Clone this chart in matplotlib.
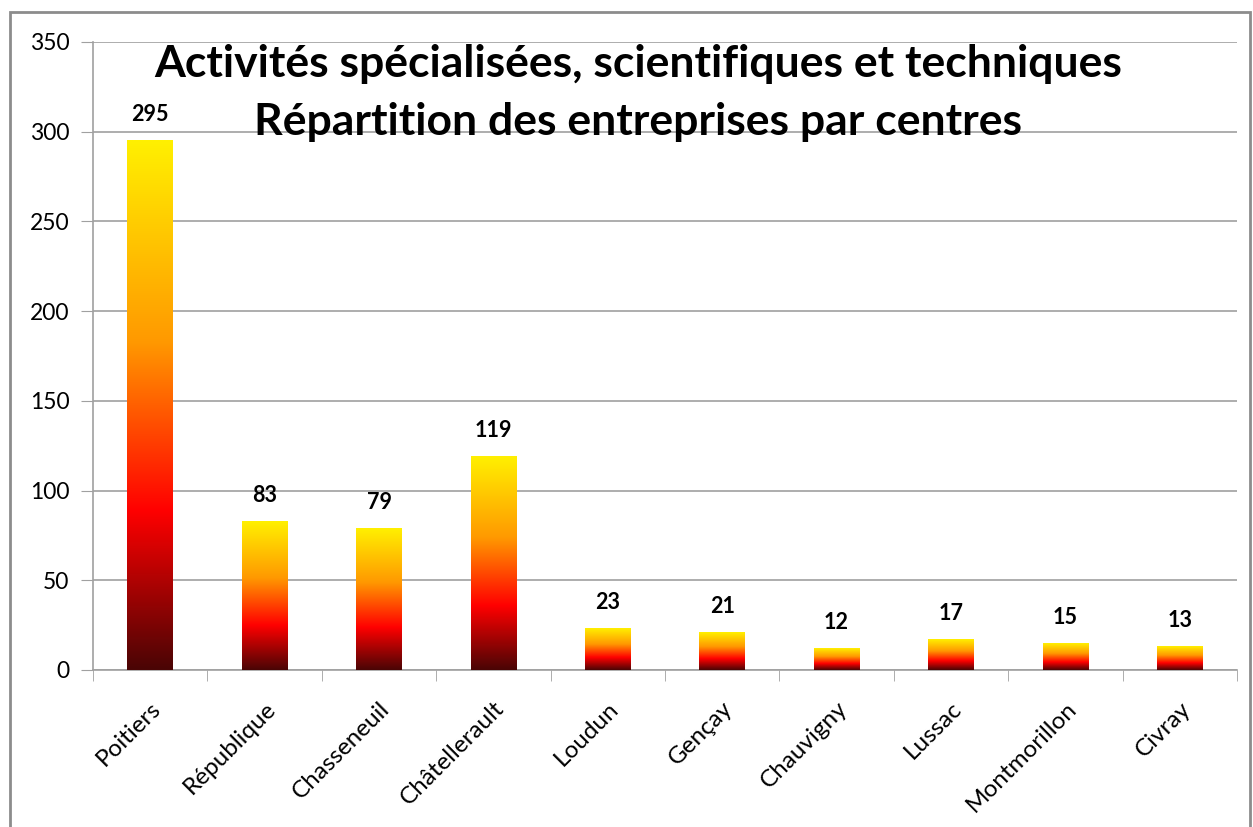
import numpy as np
import matplotlib
matplotlib.use('Agg')
import matplotlib.pyplot as plt
from matplotlib.colors import LinearSegmentedColormap
from matplotlib.patches import Rectangle

CENTRES = ['Poitiers', 'République', 'Chasseneuil', 'Châtellerault', 'Loudun',
           'Gençay', 'Chauvigny', 'Lussac', 'Montmorillon', 'Civray']
ENTREPRISES = [295, 83, 79, 119, 23, 21, 12, 17, 15, 13]
TITRE = ['Activités spécialisées, scientifiques et techniques',
         'Répartition des entreprises par centres']

plt.rcParams['font.family'] = ['Lato', 'DejaVu Sans']

# degrade sombre -> rouge -> orange -> jaune
cmap = LinearSegmentedColormap.from_list('feu', [
    (0.0, '#4a0505'), (0.3, '#ff0000'), (0.62, '#ff9900'), (1.0, '#fff000')])
grad = np.linspace(0, 1, 256).reshape(-1, 1)

fig = plt.figure(figsize=(12.53, 8.27), dpi=100)
W, H = 1253, 827
ax = fig.add_axes([93 / W, 1 - 670 / H, (1237 - 93) / W, (670 - 42) / H])

x = np.arange(len(CENTRES))
bars = ax.bar(x, ENTREPRISES, width=0.4, color='none', zorder=3)
for rect, v in zip(bars, ENTREPRISES):
    x0, w, h = rect.get_x(), rect.get_width(), rect.get_height()
    ax.imshow(grad, cmap=cmap, origin='lower', aspect='auto',
              extent=[x0, x0 + w, 0, h], zorder=3)
    ax.annotate(str(v), (x0 + w / 2, h), xytext=(0, 11), textcoords='offset points',
                ha='center', va='bottom', fontsize=15.5, fontweight='bold')

ax.set_xlim(-0.5, len(CENTRES) - 0.5)
ax.set_ylim(0, 350)
ax.set_yticks(range(0, 351, 50))
ax.set_xticks(np.arange(len(CENTRES) + 1) - 0.5, minor=True)
ax.set_xticks(x)
ax.set_xticklabels(CENTRES, rotation=45, ha='right', rotation_mode='anchor', fontsize=17.5)
ax.tick_params(axis='x', which='major', length=0, pad=20)
ax.tick_params(axis='x', which='minor', length=8, color='#a0a0a0')
ax.tick_params(axis='y', length=9, color='#a0a0a0', labelsize=16.5, pad=8)
ax.yaxis.grid(True, color='#a0a0a0', linewidth=1.2, zorder=0)
ax.set_axisbelow(True)
for s in ['top', 'right']:
    ax.spines[s].set_visible(False)
for s in ['left', 'bottom']:
    ax.spines[s].set_color('#a0a0a0')
    ax.spines[s].set_linewidth(1.2)

for ligne, yb in zip(TITRE, [77, 135]):
    fig.text(638 / W, 1 - yb / H, ligne, ha='center', va='baseline', fontsize=32,
             fontweight='bold')

fig.patches.append(Rectangle((10 / W, -0.01), (1250 - 10) / W, 1 - 12 / H + 0.01,
                             transform=fig.transFigure, fill=False,
                             edgecolor='#8c8c8c', linewidth=2))

fig.savefig('out.png', dpi=100)
